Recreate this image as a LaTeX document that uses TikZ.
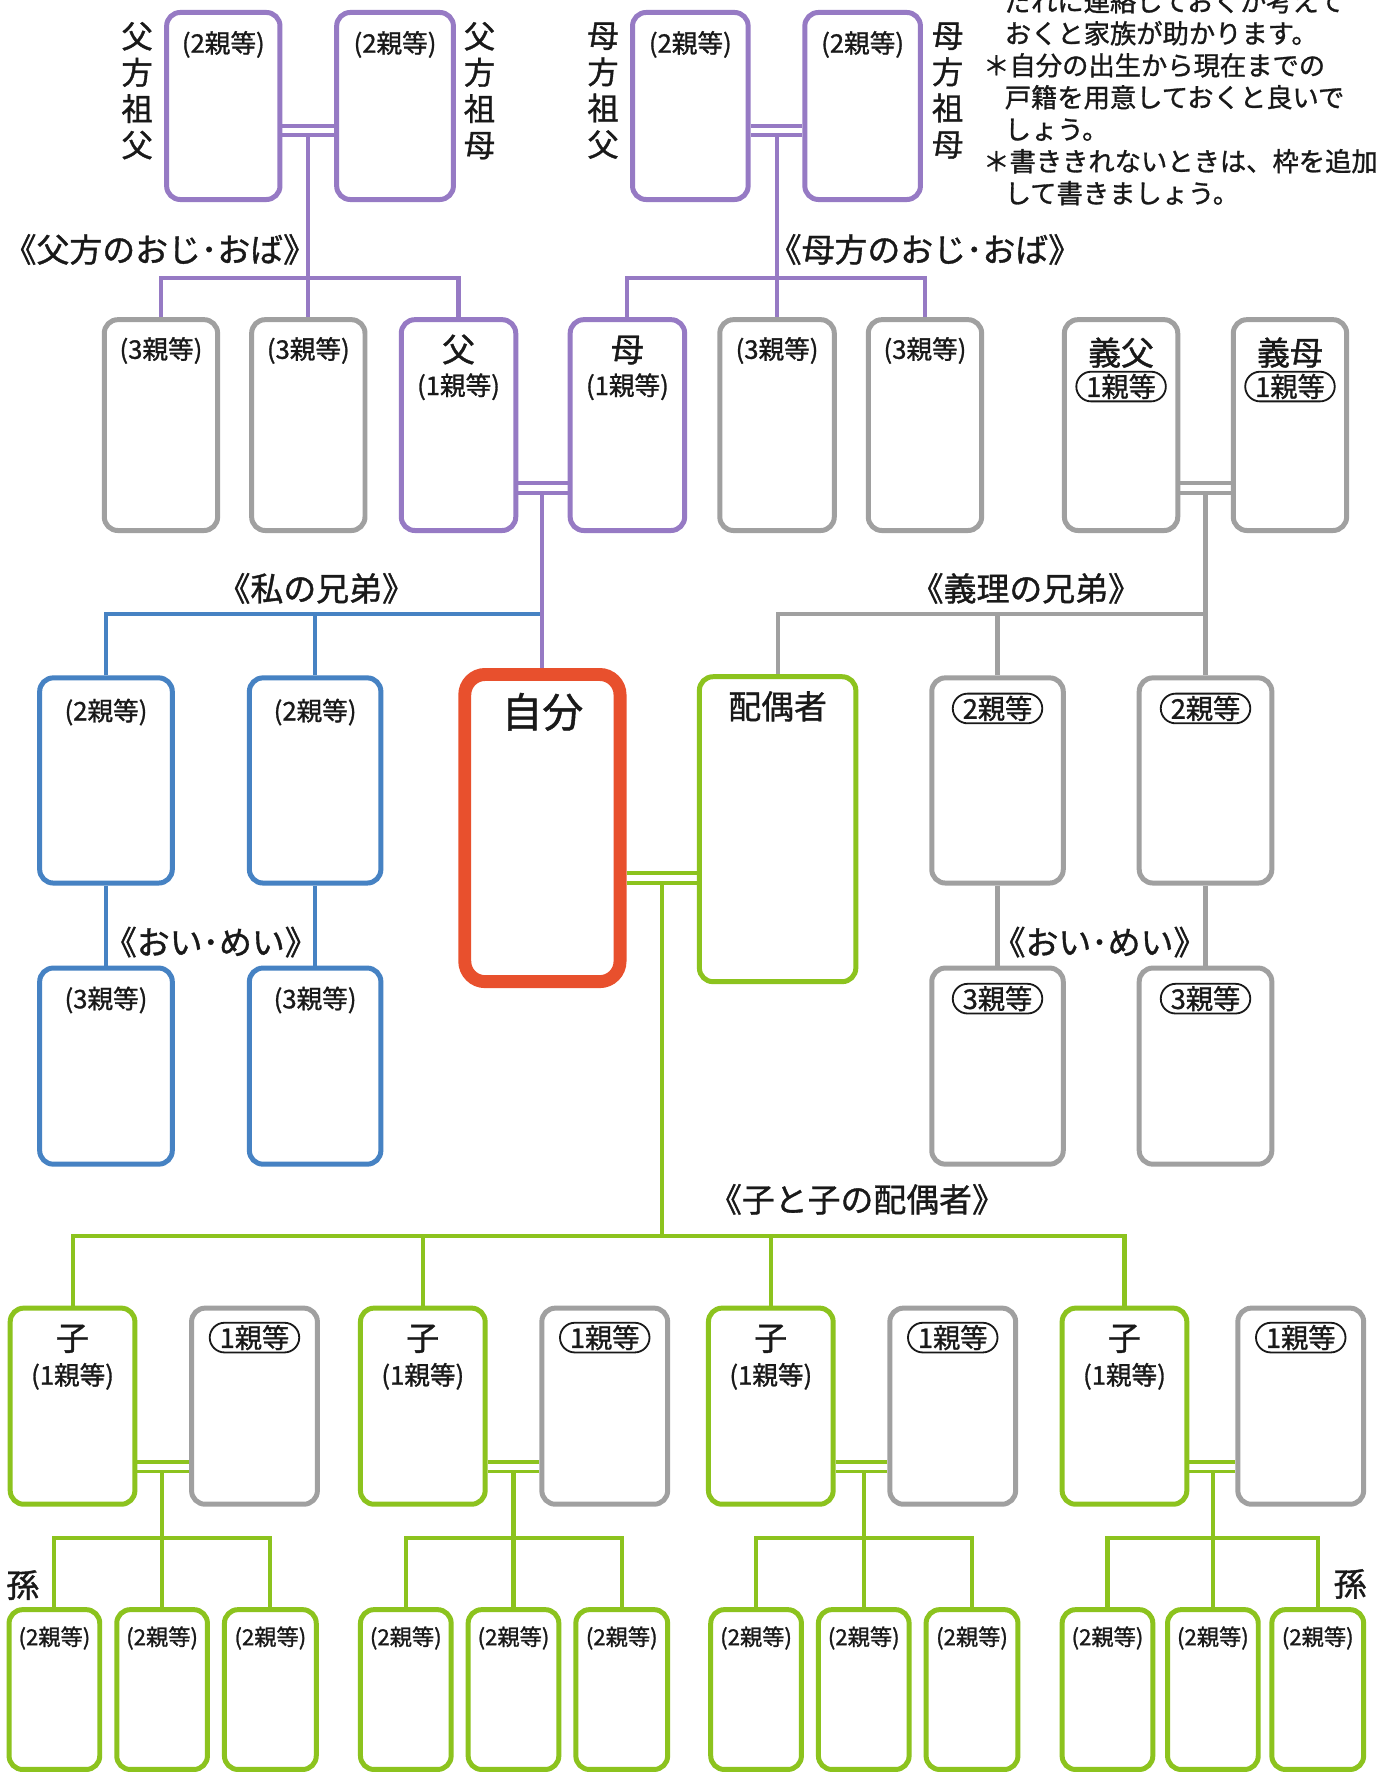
\documentclass[tikz,border=0pt]{standalone}
\usepackage{fontspec}
\setmainfont{Noto Sans CJK JP}[FakeBold=1.1]
\usetikzlibrary{calc,shapes.misc}
\definecolor{cP}{RGB}{150,122,196}
\definecolor{cG}{RGB}{160,160,160}
\definecolor{cB}{RGB}{70,130,195}
\definecolor{cR}{RGB}{232,80,45}
\definecolor{cL}{RGB}{140,195,30}
\definecolor{cT}{RGB}{25,25,25}
\newcommand\kb[6]{\node[#2, minimum width={(#5-#3)*0.5pt}, minimum height={(#6-#4)*0.5pt}] (#1) at ({(#3+#5)/2},{(#4+#6)/2}) {};}
\begin{document}
\begin{tikzpicture}[x=0.5pt,y=-0.5pt,
  box/.style={draw, line width=2.2pt, rounded corners=6pt, fill=white, inner sep=0pt},
  pbox/.style={box, draw=cP}, gbox/.style={box, draw=cG}, bbox/.style={box, draw=cB},
  lbox/.style={box, draw=cL}, rbox/.style={box, draw=cR, line width=5.7pt, rounded corners=9pt},
  ln/.style={line width=1.8pt}, dln/.style={line width=1.6pt},
  pl/.style={ln, draw=cP}, gl/.style={ln, draw=cG}, bl/.style={ln, draw=cB}, ll/.style={ln, draw=cL},
  pd/.style={dln, draw=cP}, gd/.style={dln, draw=cG}, ld/.style={dln, draw=cL},
  txt/.style={text=cT, inner sep=0pt},
  lab/.style={txt, font=\fontsize{11.3}{13}\selectfont, text height=9.9pt, text depth=1.4pt},
  big/.style={txt, font=\fontsize{14.5}{16}\selectfont, text height=12.8pt, text depth=1.7pt},
  self/.style={txt, font=\fontsize{18}{20}\selectfont, text height=15.8pt, text depth=2.2pt},
  brk/.style={txt, font=\fontsize{14.5}{16}\selectfont, text height=12.8pt, text depth=1.7pt},
  note/.style={txt, anchor=west, font=\fontsize{11.6}{14}\selectfont, text height=10.2pt, text depth=1.4pt},
  sm/.style={txt, font=\fontsize{9.8}{11}\selectfont, text height=8.6pt, text depth=1.2pt},
  vert/.style={txt, align=center, font=\fontsize{13.8}{16}\selectfont},
  pill/.style={rounded rectangle, draw=cT, line width=0.8pt, inner xsep=0.6pt, inner ysep=0.6pt,
    font=\fontsize{12}{13}\selectfont, text height=10.5pt, text depth=1.4pt, fill=white, text=cT}
]
\fill[white] (0,0) rectangle (1220,1565);
\useasboundingbox (0,0) rectangle (1220,1565);

% ---- boxes ----
\kb{pgf}{pbox}{147}{11}{247}{176}
\kb{pgm}{pbox}{297}{11}{400}{176}
\kb{mgf}{pbox}{558}{11}{660}{176}
\kb{mgm}{pbox}{710}{11}{812}{176}

\kb{u1}{gbox}{92}{282}{192}{468}
\kb{u2}{gbox}{222}{282}{322}{468}
\kb{fa}{pbox}{354}{282}{455}{468}
\kb{mo}{pbox}{503}{282}{604}{468}
\kb{u3}{gbox}{635}{282}{736}{468}
\kb{u4}{gbox}{766}{282}{866}{468}
\kb{ifa}{gbox}{939}{282}{1039}{468}
\kb{imo}{gbox}{1088}{282}{1188}{468}

\kb{s1}{bbox}{35}{598}{152}{779}
\kb{s2}{bbox}{220}{598}{336}{779}
\kb{me}{rbox}{410}{595}{547}{866}
\kb{sp}{lbox}{617}{597}{755}{866}
\kb{is1}{gbox}{822}{598}{938}{779}
\kb{is2}{gbox}{1005}{598}{1122}{779}

\kb{n1}{bbox}{35}{854}{152}{1027}
\kb{n2}{bbox}{220}{854}{336}{1027}
\kb{n3}{gbox}{822}{854}{938}{1027}
\kb{n4}{gbox}{1005}{854}{1122}{1027}

\foreach \i/\a/\b in {1/9/169, 2/318/478, 3/625/785, 4/937/1092} {
  \kb{c\i}{lbox}{\a}{1154}{\a+110}{1327}
  \kb{cs\i}{gbox}{\b}{1154}{\b+111}{1327}
}
\foreach \i/\a/\b/\c in {1/8/103/198, 2/318/413/508, 3/627/722/817, 4/937/1030/1122} {
  \kb{g\i1}{lbox}{\a}{1420}{\a+80}{1561}
  \kb{g\i2}{lbox}{\b}{1420}{\b+80}{1561}
  \kb{g\i3}{lbox}{\c}{1420}{\c+81}{1561}
}

% ---- connectors ----
\draw[pd] (pgf.east |- 0,111) -- (pgm.west |- 0,111);
\draw[pd] (pgf.east |- 0,119) -- (pgm.west |- 0,119);
\draw[pl] (u2.north |- 0,119) -- (u2.north);
\draw[pl] (u1.north) |- (fa.north |- 0,245) -- (fa.north);

\draw[pd] (mgf.east |- 0,111) -- (mgm.west |- 0,111);
\draw[pd] (mgf.east |- 0,119) -- (mgm.west |- 0,119);
\draw[pl] (u3.north |- 0,119) -- (u3.north);
\draw[pl] (mo.north) |- (u4.north |- 0,245) -- (u4.north);

\draw[pd] (fa.east |- 0,426) -- (mo.west |- 0,426);
\draw[pd] (fa.east |- 0,435) -- (mo.west |- 0,435);
\draw[bl] (s1.north) |- (me.north |- 0,542);
\draw[bl] (s2.north) -- (s2.north |- 0,542);
\draw[pl] (me.north |- 0,435) -- (me.north);

\draw[gd] (ifa.east |- 0,426) -- (imo.west |- 0,426);
\draw[gd] (ifa.east |- 0,435) -- (imo.west |- 0,435);
\draw[gl] (is2.north |- 0,435) -- (is2.north);
\draw[gl] (sp.north) |- (is2.north |- 0,542);
\draw[gl] (is1.north) -- (is1.north |- 0,542);

\draw[bl] (s1.south) -- (n1.north);
\draw[bl] (s2.south) -- (n2.north);
\draw[gl] (is1.south) -- (n3.north);
\draw[gl] (is2.south) -- (n4.north);

\draw[ld] (me.east |- 0,770) -- (sp.west |- 0,770);
\draw[ld] (me.east |- 0,779) -- (sp.west |- 0,779);
\coordinate (ms) at ($(me.east)!0.5!(sp.west)$);
\draw[ll] (ms |- 0,779) -- (ms |- 0,1090);
\draw[ll] (c1.north) |- (c4.north |- 0,1090) -- (c4.north);
\draw[ll] (c2.north |- 0,1090) -- (c2.north);
\draw[ll] (c3.north |- 0,1090) -- (c3.north);

\foreach \i in {1,...,4} {
  \draw[ld] (c\i.east |- 0,1290) -- (cs\i.west |- 0,1290);
  \draw[ld] (c\i.east |- 0,1298) -- (cs\i.west |- 0,1298);
  \draw[ll] (g\i2.north |- 0,1298) -- (g\i2.north);
  \draw[ll] (g\i1.north) |- (g\i3.north |- 0,1357) -- (g\i3.north);
}

% ---- texts in boxes ----
\node[lab] (tpgf) at (pgf.north |- 0,38) {(2親等)};
\node[lab] (tpgm) at (pgm.north |- 0,38) {(2親等)};
\node[lab] (tmgf) at (mgf.north |- 0,38) {(2親等)};
\node[lab] (tmgm) at (mgm.north |- 0,38) {(2親等)};

\node[lab] (tu1) at (u1.north |- 0,308) {(3親等)};
\node[lab] (tu2) at (u2.north |- 0,308) {(3親等)};
\node[lab] (tu3) at (u3.north |- 0,308) {(3親等)};
\node[lab] (tu4) at (u4.north |- 0,308) {(3親等)};
\node[big] (tfa) at (fa.north |- 0,308) {父};
\node[lab] (tfa2) at (fa.north |- 0,340) {(1親等)};
\node[big] (tmo) at (mo.north |- 0,308) {母};
\node[lab] (tmo2) at (mo.north |- 0,340) {(1親等)};
\node[big] (tifa) at (ifa.north |- 0,311) {義父};
\node[pill] (pifa) at (ifa.north |- 0,341) {1親等};
\node[big] (timo) at (imo.north |- 0,311) {義母};
\node[pill] (pimo) at (imo.north |- 0,341) {1親等};

\node[lab] (ts1) at (s1.north |- 0,627) {(2親等)};
\node[lab] (ts2) at (s2.north |- 0,627) {(2親等)};
\node[self] (tme) at (me.north |- 0,628) {自分};
\node[big] (tsp) at (sp.north |- 0,623) {配偶者};
\node[pill] (pis1) at (is1.north |- 0,625) {2親等};
\node[pill] (pis2) at (is2.north |- 0,625) {2親等};

\node[lab] (tn1) at (n1.north |- 0,881) {(3親等)};
\node[lab] (tn2) at (n2.north |- 0,881) {(3親等)};
\node[pill] (pn3) at (n3.north |- 0,881) {3親等};
\node[pill] (pn4) at (n4.north |- 0,881) {3親等};

\foreach \i in {1,...,4} {
  \node[big] (tc\i) at (c\i.north |- 0,1180) {子};
  \node[lab] (tcc\i) at (c\i.north |- 0,1213) {(1親等)};
  \node[pill] (pcs\i) at (cs\i.north |- 0,1180) {1親等};
  \foreach \j in {1,2,3} {
    \node[sm] (tg\i\j) at (g\i\j.north |- 0,1444) {(2親等)};
  }
}

% ---- free labels ----
\node[vert] (vpgf) at (121,80) {父\\方\\祖\\父};
\node[vert] (vpgm) at (423,80) {父\\方\\祖\\母};
\node[vert] (vmgf) at (532,80) {母\\方\\祖\\父};
\node[vert] (vmgm) at (836,80) {母\\方\\祖\\母};

\node[brk] (kpo) at (141,220) {《父方のおじ･おば》};
\node[brk] (kmo) at (816,220) {《母方のおじ･おば》};
\node[brk] (ksib) at (279,519) {《私の兄弟》};
\node[brk] (kisib) at (905,519) {《義理の兄弟》};
\node[brk] (kn1) at (186,831) {《おい･めい》};
\node[brk] (kn2) at (970,831) {《おい･めい》};
\node[brk] (kch) at (756,1058) {《子と子の配偶者》};
\node[big] (mago1) at (20,1398) {孫};
\node[big] (mago2) at (1191,1397) {孫};

% ---- notes ----
\node[note] (nt1) at (886,1.2) {だれに連絡しておくか考えて};
\node[note] (nt2) at (886,29.4) {おくと家族が助かります。};
\node[note] (nt3) at (867,57.6) {＊自分の出生から現在までの};
\node[note] (nt4) at (886,85.8) {戸籍を用意しておくと良いで};
\node[note] (nt5) at (886,114) {しょう。};
\node[note] (nt6) at (867,142.2) {＊書ききれないときは、枠を追加};
\node[note] (nt7) at (886,170.4) {して書きましょう。};
\end{tikzpicture}
\end{document}
